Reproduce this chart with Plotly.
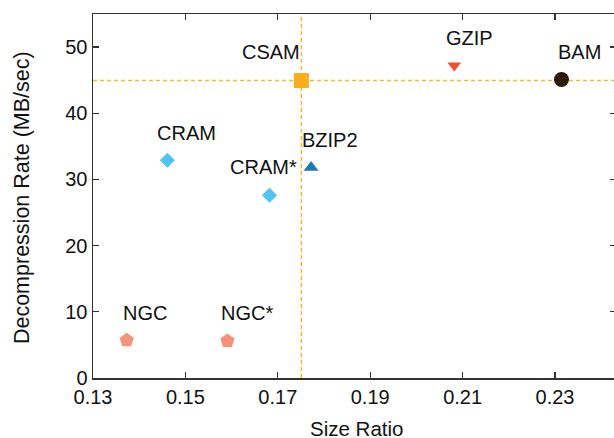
import plotly.graph_objects as go

# ---- data ----
names = ["CSAM", "GZIP", "BAM", "CRAM", "CRAM*", "BZIP2", "NGC", "NGC*"]
size_ratio = [0.1751, 0.2082, 0.2314, 0.1461, 0.1682, 0.1772, 0.1373, 0.1591]
decomp_rate = [44.95, 47.2, 45.1, 32.9, 27.6, 31.8, 5.7, 5.6]
label_x = [0.1685, 0.2115, 0.2353, 0.1503, 0.1669, 0.1814, 0.1412, 0.1633]
label_y = [49.2, 51.3, 49.2, 37.0, 31.9, 36.0, 9.8, 9.8]
x_ticks = [0.13, 0.15, 0.17, 0.19, 0.21, 0.23]
y_ticks = [0, 10, 20, 30, 40, 50]

# ---- styles ----
symbols = ["square", "triangle-down", "circle", "diamond", "diamond",
           "triangle-up", "pentagon", "pentagon"]
colors = ["#fbae1c", "#ef4f38", "#2a1a06", "#4dc4f3", "#4dc4f3",
          "#1b7ab6", "#f5927a", "#f5927a"]
sizes = [15, 12, 15, 11.5, 11.5, 13, 15, 15]
FONT = "Liberation Sans, Arial, Helvetica, sans-serif"
FS = 20

fig = go.Figure()
for i, n in enumerate(names):
    fig.add_trace(go.Scatter(
        x=[size_ratio[i]], y=[decomp_rate[i]], mode="markers", name=n,
        marker=dict(symbol=symbols[i], color=colors[i], size=sizes[i],
                    line=dict(width=0)),
        showlegend=False, cliponaxis=False, hoverinfo="skip"))

# crosshair through CSAM
ref = names.index("CSAM")
line_style = dict(color="#f7b733", width=1.5, dash="4px,3px")
fig.add_shape(type="line", xref="paper", yref="y", x0=0, x1=1,
              y0=decomp_rate[ref], y1=decomp_rate[ref], line=line_style, layer="below")
fig.add_shape(type="line", xref="x", yref="paper", x0=size_ratio[ref], x1=size_ratio[ref],
              y0=0, y1=1, line=line_style, layer="below")

for i, n in enumerate(names):
    fig.add_annotation(x=label_x[i], y=label_y[i], text=n, showarrow=False,
                       xanchor="center", yanchor="middle",
                       font=dict(family=FONT, size=FS, color="#111"))

fig.add_annotation(xref="paper", yref="paper", x=-0.1358, y=0.497,
                   text="Decompression Rate (MB/sec)", textangle=-90, showarrow=False,
                   xanchor="center", yanchor="middle",
                   font=dict(family=FONT, size=21.5, color="#111"))
fig.add_annotation(xref="paper", yref="paper", x=0.503, y=-0.14,
                   text="Size Ratio", showarrow=False,
                   xanchor="center", yanchor="middle",
                   font=dict(family=FONT, size=20.5, color="#111"))

axis_common = dict(showline=True, linecolor="#333", linewidth=1.5, mirror="ticks",
                   ticks="inside", ticklen=6, tickcolor="#333", tickwidth=1.2,
                   showgrid=False, zeroline=False, automargin=False,
                   tickfont=dict(family=FONT, size=FS, color="#111"))

# body margin removed below; plot area runs slightly past the right window edge
fig.update_layout(
    autosize=False,
    width=616, height=438,
    margin=dict(l=93, r=0, t=14, b=60, autoexpand=False),
    paper_bgcolor="white", plot_bgcolor="white",
    hovermode=False,
    xaxis=dict(range=[0.13, 0.2432], tickvals=x_ticks,
               ticktext=[f"{v:.2f}" for v in x_ticks], **axis_common),
    yaxis=dict(range=[0, 55], tickvals=y_ticks,
               ticktext=[str(v) for v in y_ticks], **axis_common),
)

fig.write_html(
    "out.html",
    config={"responsive": False, "displayModeBar": False, "staticPlot": True},
    post_script="document.body.style.margin='0';"
                "document.documentElement.style.overflow='hidden';"
                "document.body.style.overflow='hidden';",
)
